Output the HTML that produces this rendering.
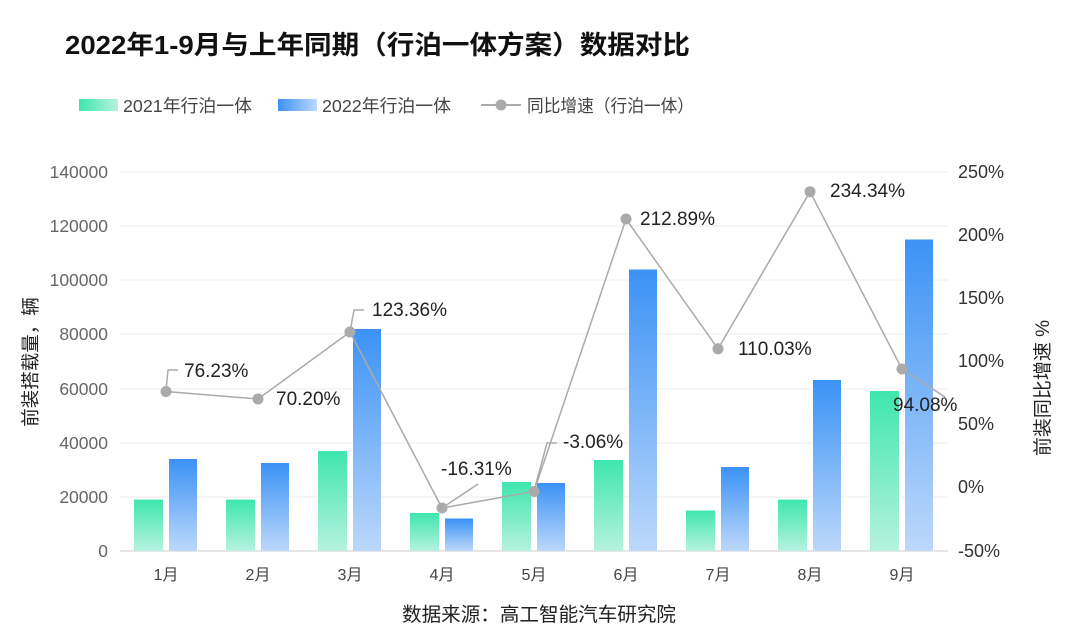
<!DOCTYPE html>
<html><head><meta charset="utf-8"><style>
body{margin:0;background:#fff;}
svg{display:block;font-family:"Liberation Sans","Noto Sans CJK SC",sans-serif;}
</style></head><body>
<svg width="1080" height="640" viewBox="0 0 1080 640">
<defs>
<linearGradient id="g" x1="0" y1="0" x2="0" y2="1"><stop offset="0" stop-color="#3fe6ae"/><stop offset="1" stop-color="#b6f2df"/></linearGradient>
<linearGradient id="b" x1="0" y1="0" x2="0" y2="1"><stop offset="0" stop-color="#3b92f5"/><stop offset="1" stop-color="#bcd8fb"/></linearGradient>
<linearGradient id="gl" x1="0" y1="0" x2="1" y2="0"><stop offset="0" stop-color="#3fe6ae"/><stop offset="1" stop-color="#b6f2df"/></linearGradient>
<linearGradient id="bl" x1="0" y1="0" x2="1" y2="0"><stop offset="0" stop-color="#3b92f5"/><stop offset="1" stop-color="#bcd8fb"/></linearGradient>
</defs>
<text x="65" y="54" font-size="26" font-weight="bold" fill="#111" textLength="625" lengthAdjust="spacingAndGlyphs">2022年1-9月与上年同期（行泊一体方案）数据对比</text>
<rect x="79" y="99" width="39" height="12" fill="url(#gl)"/>
<text x="123" y="112" font-size="17.5" fill="#444" textLength="129" lengthAdjust="spacingAndGlyphs">2021年行泊一体</text>
<rect x="278" y="99" width="39" height="12" fill="url(#bl)"/>
<text x="322" y="112" font-size="17.5" fill="#444" textLength="129" lengthAdjust="spacingAndGlyphs">2022年行泊一体</text>
<line x1="481" y1="105" x2="521" y2="105" stroke="#aaa" stroke-width="2"/><circle cx="501" cy="105" r="5.5" fill="#aaa"/>
<text x="527" y="112" font-size="17.5" fill="#444" textLength="167" lengthAdjust="spacingAndGlyphs">同比增速（行泊一体）</text>
<g stroke="#ececec" stroke-width="1">
<line x1="120" y1="172" x2="948" y2="172"/><line x1="120" y1="226" x2="948" y2="226"/><line x1="120" y1="280" x2="948" y2="280"/><line x1="120" y1="334" x2="948" y2="334"/><line x1="120" y1="389" x2="948" y2="389"/><line x1="120" y1="443" x2="948" y2="443"/><line x1="120" y1="497" x2="948" y2="497"/>
</g>
<line x1="120" y1="551" x2="948" y2="551" stroke="#ccc"/>
<g font-size="17.5" fill="#666" text-anchor="end">
<text x="108" y="178">140000</text><text x="108" y="232">120000</text><text x="108" y="286">100000</text><text x="108" y="340">80000</text><text x="108" y="395">60000</text><text x="108" y="449">40000</text><text x="108" y="503">20000</text><text x="108" y="557">0</text>
</g>
<g font-size="18" fill="#333">
<text x="958" y="178">250%</text><text x="958" y="241">200%</text><text x="958" y="304">150%</text><text x="958" y="367">100%</text><text x="958" y="430">50%</text><text x="958" y="493">0%</text><text x="958" y="557">-50%</text>
</g>
<text transform="translate(37,362) rotate(-90)" font-size="18.5" fill="#222" text-anchor="middle">前装搭载量，辆</text>
<text transform="translate(1049,388) rotate(-90)" font-size="19" fill="#222" text-anchor="middle">前装同比增速 %</text>
<g>
<rect x="134" y="499.6" width="29" height="51.4" fill="url(#g)"/><rect x="169" y="459" width="28" height="92" fill="url(#b)"/>
<rect x="226" y="499.6" width="29" height="51.4" fill="url(#g)"/><rect x="261" y="463" width="28" height="88" fill="url(#b)"/>
<rect x="318" y="451" width="29" height="100" fill="url(#g)"/><rect x="353" y="329" width="28" height="222" fill="url(#b)"/>
<rect x="410" y="513" width="29" height="38" fill="url(#g)"/><rect x="445" y="518.5" width="28" height="32.5" fill="url(#b)"/>
<rect x="502" y="482" width="29" height="69" fill="url(#g)"/><rect x="537" y="483" width="28" height="68" fill="url(#b)"/>
<rect x="594" y="460" width="29" height="91" fill="url(#g)"/><rect x="629" y="269.5" width="28" height="281.5" fill="url(#b)"/>
<rect x="686" y="510.5" width="29" height="40.5" fill="url(#g)"/><rect x="721" y="467" width="28" height="84" fill="url(#b)"/>
<rect x="778" y="499.6" width="29" height="51.4" fill="url(#g)"/><rect x="813" y="380" width="28" height="171" fill="url(#b)"/>
<rect x="870" y="391" width="29" height="160" fill="url(#g)"/><rect x="905" y="239.5" width="28" height="311.5" fill="url(#b)"/>
</g>
<g font-size="16" fill="#444" text-anchor="middle">
<text x="166" y="580">1月</text><text x="258" y="580">2月</text><text x="350" y="580">3月</text><text x="442" y="580">4月</text><text x="534" y="580">5月</text><text x="626" y="580">6月</text><text x="718" y="580">7月</text><text x="810" y="580">8月</text><text x="902" y="580">9月</text>
</g>
<g stroke="#aaa" stroke-width="1.5" fill="none">
<polyline points="166,391.5 258,399 350,332 442,508 534,491.5 626,219 718,348.8 810,191.7 902,369 945,397"/>
<polyline points="166,391 168,370 178,370"/>
<polyline points="350,332 354,310 364,310"/>
<polyline points="442,508 478,484"/>
<polyline points="534,491 547,443 557,443"/>
</g>
<g fill="#aaa">
<circle cx="166" cy="391.5" r="5.5"/><circle cx="258" cy="399" r="5.5"/><circle cx="350" cy="332" r="5.5"/><circle cx="442" cy="508" r="5.5"/><circle cx="534" cy="491.5" r="5.5"/><circle cx="626" cy="219" r="5.5"/><circle cx="718" cy="348.8" r="5.5"/><circle cx="810" cy="191.7" r="5.5"/><circle cx="902" cy="369" r="5.5"/>
</g>
<g font-size="19" fill="#222">
<text x="184" y="377">76.23%</text><text x="276" y="405">70.20%</text><text x="372" y="316">123.36%</text><text x="441" y="475">-16.31%</text><text x="563" y="448">-3.06%</text><text x="640" y="225">212.89%</text><text x="738" y="355">110.03%</text><text x="830" y="197">234.34%</text><text x="893" y="411">94.08%</text>
</g>
<text x="539" y="621" font-size="19.5" fill="#222" text-anchor="middle" textLength="274" lengthAdjust="spacingAndGlyphs">数据来源：高工智能汽车研究院</text>
</svg>
</body></html>
